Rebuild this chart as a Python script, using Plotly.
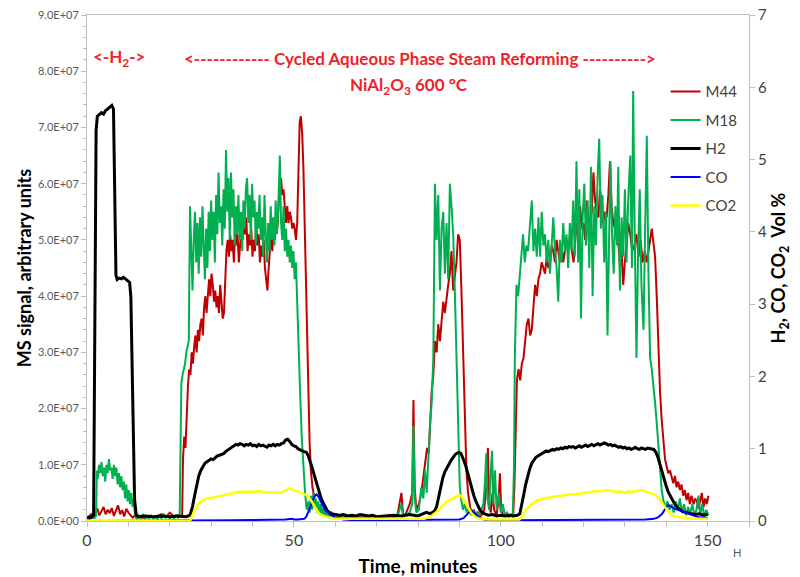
import plotly.graph_objects as go

# ---------------------------------------------------------------------------
# Mass-spec signals (time in minutes, signal in units of 1e7 a.u.)
# ---------------------------------------------------------------------------
M44 = [
    (0, 0.05), (0.5, 0.08), (1.0, 0.12), (1.5, 0.06), (2.0, 0.15), (2.5, 0.22), (3.0, 0.10),
    (3.5, 0.18), (4.0, 0.25), (4.5, 0.12), (5.0, 0.20), (5.5, 0.14), (6.0, 0.23), (6.5, 0.09),
    (7.0, 0.17), (7.5, 0.28), (8.0, 0.12), (8.5, 0.19), (9.0, 0.08), (9.5, 0.22), (10.0, 0.15),
    (10.5, 0.10), (11.0, 0.06), (11.5, 0.09), (12.0, 0.05), (13, 0.07), (14, 0.05), (15, 0.08),
    (16, 0.06), (17, 0.09), (18, 0.12), (19, 0.07), (20, 0.15), (21, 0.08), (22, 0.10), (22.8, 0.08),
    (23.0, 0.1), (23.2, 1.1), (23.5, 1.5), (23.8, 1.3), (24.1, 2.0), (24.4, 2.4), (24.7, 2.7),
    (25.0, 2.6), (25.3, 3.0), (25.6, 2.8), (25.9, 3.1), (26.2, 3.3), (26.5, 3.0), (26.8, 3.4),
    (27.1, 3.2), (27.4, 3.5), (27.7, 3.6), (28.0, 3.3), (28.3, 3.8), (28.6, 4.0), (28.9, 3.7),
    (29.2, 4.1), (29.5, 4.3), (29.8, 4.0), (30.1, 4.4), (30.4, 4.2), (30.7, 3.9), (31.0, 4.1),
    (31.3, 3.8), (31.6, 4.0), (31.9, 3.7), (32.2, 4.2), (32.5, 3.9), (32.8, 3.6), (33.1, 3.7),
    (33.4, 4.4), (33.7, 4.8), (34.0, 5.0), (34.3, 4.7), (34.6, 5.1), (34.9, 4.8), (35.2, 5.0),
    (35.5, 4.6), (35.8, 5.2), (36.1, 4.9), (36.4, 5.1), (36.7, 4.6), (37.0, 4.9), (37.3, 5.2),
    (37.6, 5.0), (37.9, 5.3), (38.2, 5.1), (38.5, 5.4), (38.8, 4.8), (39.1, 5.1), (39.4, 4.9),
    (39.7, 5.2), (40.0, 4.7), (40.3, 5.0), (40.6, 4.8), (40.9, 5.3), (41.2, 4.9), (41.5, 5.1),
    (41.8, 4.6), (42.1, 4.9), (42.4, 4.7), (42.7, 5.0), (43.0, 4.5), (43.3, 4.3), (43.6, 4.1),
    (43.9, 4.5), (44.2, 4.9), (44.5, 5.1), (44.8, 4.8), (45.1, 5.3), (45.4, 5.0), (45.7, 5.4),
    (46.0, 5.2), (46.3, 5.6), (46.6, 6.0), (46.9, 6.1), (47.2, 5.8), (47.5, 5.9), (47.8, 5.5),
    (48.1, 5.3), (48.4, 5.6), (48.7, 5.3), (49.0, 5.5), (49.3, 5.4), (49.6, 5.2), (49.9, 5.3),
    (50.2, 5.2), (50.5, 5.0), (50.8, 5.3), (51.1, 6.4), (51.4, 7.1), (51.7, 7.2), (52.0, 6.9),
    (52.3, 6.3), (52.6, 5.2), (52.9, 4.1), (53.2, 3.0), (53.5, 2.0), (53.8, 1.4), (54.1, 0.9),
    (54.5, 0.6), (55.0, 0.4), (55.5, 0.3), (56.0, 0.25), (56.5, 0.15), (57.0, 0.2), (57.5, 0.12),
    (58.0, 0.18), (58.5, 0.1), (59.0, 0.15), (59.5, 0.08), (60.0, 0.12), (61, 0.07), (62, 0.1),
    (63, 0.06), (64, 0.08), (65, 0.05), (66, 0.07), (67, 0.05), (68, 0.08), (69, 0.06), (70, 0.05),
    (71, 0.07), (72, 0.06), (73, 0.09), (74, 0.06), (75, 0.1), (76, 0.5), (76.4, 0.1), (77, 0.12),
    (78, 0.3), (78.6, 0.5), (78.9, 2.15), (79.2, 0.6), (79.6, 0.2), (80.2, 0.3), (80.8, 0.5),
    (81.3, 0.8), (81.8, 1.1), (82.2, 1.3), (82.6, 1.2), (82.9, 1.7), (83.3, 2.3), (83.7, 2.6),
    (84.1, 3.2), (84.5, 3.0), (84.9, 3.5), (85.3, 3.2), (85.7, 3.6), (86.1, 3.9), (86.5, 3.7),
    (86.9, 4.0), (87.3, 4.2), (87.7, 4.4), (88.1, 4.8), (88.5, 4.1), (88.9, 4.4), (89.3, 4.6),
    (89.7, 5.1), (90.1, 5.0), (90.5, 4.1), (90.9, 2.9), (91.3, 1.7), (91.7, 0.9), (92.1, 0.5),
    (92.6, 0.25), (93.0, 0.15), (93.5, 0.2), (94.0, 0.1), (94.5, 0.15), (95.0, 0.08), (95.5, 0.12),
    (96.0, 0.2), (96.5, 0.6), (96.9, 1.3), (97.2, 0.3), (97.6, 0.15), (98.0, 0.5), (98.4, 0.2),
    (99.0, 0.1), (99.5, 0.4), (99.8, 0.85), (100.1, 0.2), (100.6, 0.1), (101.2, 0.12), (101.8, 0.08),
    (102.4, 0.1), (103.0, 0.1), (103.3, 0.6), (103.6, 1.5), (103.9, 2.5), (104.3, 2.7), (104.7, 2.5),
    (105.1, 2.8), (105.5, 2.9), (105.9, 3.2), (106.3, 3.5), (106.7, 3.6), (107.1, 3.3), (107.5, 3.4),
    (107.9, 3.9), (108.3, 4.2), (108.7, 4.0), (109.1, 4.3), (109.5, 4.4), (109.9, 4.6), (110.3, 4.5),
    (110.7, 4.4), (111.1, 4.7), (111.5, 4.5), (111.9, 4.6), (112.3, 4.9), (112.7, 4.8), (113.1, 4.6),
    (113.5, 5.0), (113.9, 4.8), (114.3, 4.6), (114.7, 4.9), (115.1, 4.6), (115.5, 4.8), (115.9, 5.0),
    (116.3, 4.8), (116.8, 5.1), (117.2, 4.8), (117.6, 4.6), (118.0, 5.0), (118.4, 5.3), (118.8, 5.0),
    (119.2, 5.6), (119.6, 5.2), (120.0, 5.3), (120.4, 5.0), (120.8, 5.7), (121.2, 5.4), (121.6, 5.3),
    (122.0, 5.5), (122.4, 6.2), (122.8, 5.7), (123.2, 5.5), (123.6, 5.4), (124.0, 5.9), (124.4, 5.6),
    (124.8, 5.3), (125.2, 5.5), (125.6, 5.4), (126.0, 5.8), (126.4, 6.4), (126.8, 5.6), (127.2, 5.3),
    (127.6, 5.2), (128.0, 5.5), (128.4, 5.0), (128.8, 4.5), (129.2, 4.8), (129.6, 4.2), (130.0, 4.6),
    (130.4, 5.0), (130.8, 5.3), (131.3, 5.1), (131.8, 4.8), (132.3, 4.9), (132.8, 5.1), (133.3, 4.7),
    (133.8, 5.0), (134.3, 4.6), (134.8, 4.8), (135.3, 4.6), (135.8, 4.9), (136.1, 5.0), (136.5, 5.2),
    (136.9, 4.9), (137.3, 4.7), (137.7, 4.0), (138.1, 3.0), (138.5, 2.3), (138.9, 1.8), (139.3, 1.4),
    (139.7, 1.1), (140.1, 0.97), (140.5, 0.85), (140.9, 0.9), (141.3, 0.75), (141.7, 0.67),
    (142.1, 0.8), (142.5, 0.6), (142.9, 0.7), (143.3, 0.55), (143.7, 0.65), (144.1, 0.45),
    (144.5, 0.55), (144.9, 0.37), (145.3, 0.5), (145.7, 0.3), (146.1, 0.45), (146.6, 0.3),
    (147.0, 0.4), (147.4, 0.35), (147.8, 0.22), (148.2, 0.35), (148.6, 0.5), (149.0, 0.25),
    (149.4, 0.4), (149.8, 0.3), (150.2, 0.45),
]

M18 = [
    (0, 0.05), (0.6, 0.03), (1.2, 0.06), (1.8, 0.05), (2.2, 0.1), (2.4, 0.9), (2.6, 0.75),
    (2.9, 1.0), (3.2, 0.85), (3.5, 1.05), (3.8, 0.8), (4.1, 0.95), (4.4, 0.7), (4.7, 1.0),
    (5.0, 0.85), (5.3, 1.1), (5.6, 0.9), (5.9, 0.95), (6.2, 0.75), (6.5, 1.0), (6.8, 0.8),
    (7.1, 0.95), (7.4, 0.65), (7.7, 0.85), (8.0, 0.6), (8.3, 0.8), (8.6, 0.55), (8.9, 0.7),
    (9.2, 0.4), (9.5, 0.65), (9.8, 0.35), (10.1, 0.55), (10.4, 0.3), (10.7, 0.5), (11.0, 0.25),
    (11.3, 0.4), (11.6, 0.1), (12.0, 0.05), (12.5, 0.1), (13, 0.04), (13.5, 0.12), (14, 0.05),
    (14.5, 0.08), (15, 0.05), (15.5, 0.1), (16, 0.05), (16.5, 0.07), (17, 0.04), (17.5, 0.09),
    (18, 0.05), (18.5, 0.13), (19, 0.06), (19.5, 0.1), (20, 0.05), (20.5, 0.08), (21, 0.05),
    (21.5, 0.1), (22, 0.06), (22.4, 0.08), (22.6, 1.5), (22.8, 2.45), (23.1, 2.6), (23.4, 2.7),
    (23.7, 2.8), (24.0, 3.0), (24.3, 3.1), (24.6, 3.2), (24.9, 5.6), (25.2, 4.6), (25.5, 4.1),
    (25.8, 5.0), (26.1, 5.5), (26.4, 4.6), (26.7, 5.3), (27.0, 4.4), (27.3, 5.4), (27.6, 4.7),
    (27.9, 5.6), (28.2, 4.9), (28.5, 4.3), (28.8, 5.2), (29.1, 4.5), (29.4, 5.5), (29.7, 4.8),
    (30.0, 5.7), (30.3, 5.0), (30.6, 5.5), (30.9, 4.6), (31.2, 5.8), (31.5, 5.1), (31.8, 6.2),
    (32.1, 5.3), (32.4, 5.6), (32.7, 4.9), (33.0, 5.9), (33.3, 5.2), (33.6, 6.6), (33.9, 5.5),
    (34.2, 6.1), (34.5, 5.0), (34.8, 6.2), (35.1, 5.4), (35.4, 5.9), (35.7, 4.9), (36.0, 5.6),
    (36.3, 5.1), (36.6, 5.8), (36.9, 5.0), (37.2, 5.5), (37.5, 4.8), (37.8, 5.7), (38.1, 5.2),
    (38.4, 5.9), (38.7, 6.1), (39.0, 5.3), (39.3, 5.8), (39.6, 5.0), (39.9, 6.0), (40.2, 5.4),
    (40.5, 5.7), (40.8, 4.9), (41.1, 5.5), (41.4, 5.2), (41.7, 5.8), (42.0, 5.0), (42.3, 5.4),
    (42.6, 4.7), (42.9, 5.8), (43.2, 5.1), (43.5, 4.6), (43.8, 5.3), (44.1, 4.8), (44.4, 5.6),
    (44.7, 5.0), (45.0, 5.4), (45.3, 4.9), (45.6, 5.7), (45.9, 5.1), (46.2, 5.5), (46.6, 6.5),
    (46.9, 5.3), (47.2, 5.0), (47.5, 5.6), (47.8, 4.8), (48.1, 5.2), (48.4, 4.7), (48.7, 5.0),
    (49.0, 4.6), (49.3, 4.9), (49.6, 4.5), (49.9, 4.8), (50.2, 4.3), (50.5, 4.6), (50.8, 3.8),
    (51.1, 3.0), (51.5, 2.3), (51.9, 1.5), (52.3, 0.95), (52.7, 0.5), (53.1, 0.2), (53.5, 0.35),
    (53.8, 0.15), (54.1, 0.45), (54.4, 0.2), (54.7, 0.5), (55.0, 0.25), (55.3, 0.4), (55.6, 0.15),
    (55.9, 0.35), (56.2, 0.12), (56.5, 0.3), (56.8, 0.1), (57.2, 0.25), (57.6, 0.08), (58.0, 0.15),
    (58.5, 0.07), (59, 0.12), (60, 0.05), (61, 0.08), (62, 0.05), (63, 0.07), (64, 0.04),
    (65, 0.06), (66, 0.05), (67, 0.08), (68, 0.05), (69, 0.06), (70, 0.04), (71, 0.07), (72, 0.05),
    (73, 0.06), (74, 0.05), (75, 0.08), (76, 0.3), (76.4, 0.08), (77, 0.1), (78, 0.15),
    (78.6, 0.3), (78.9, 1.7), (79.2, 0.4), (79.6, 0.15), (80.2, 0.2), (80.8, 0.6), (81.3, 0.4),
    (81.7, 0.9), (82.1, 0.5), (82.5, 1.2), (82.9, 1.7), (83.3, 2.1), (83.7, 2.9), (84.1, 6.0),
    (84.5, 5.0), (84.9, 5.8), (85.3, 4.1), (85.7, 5.2), (86.1, 5.5), (86.5, 4.4), (86.9, 5.3),
    (87.3, 4.3), (87.7, 6.0), (88.1, 5.6), (88.5, 5.1), (88.9, 4.1), (89.3, 2.9), (89.7, 1.7),
    (90.1, 0.6), (90.5, 0.35), (90.9, 0.2), (91.3, 0.3), (91.8, 0.15), (92.3, 0.25), (92.8, 0.1),
    (93.3, 0.2), (93.8, 0.08), (94.3, 0.15), (94.8, 0.1), (95.3, 0.2), (95.8, 0.3), (96.2, 0.7),
    (96.5, 1.2), (96.8, 0.4), (97.2, 0.2), (97.6, 0.9), (97.9, 1.25), (98.2, 0.3), (98.6, 0.9),
    (99.0, 0.2), (99.5, 0.5), (100.0, 0.15), (100.5, 0.3), (101.0, 0.1), (101.5, 0.15),
    (102.0, 0.08), (102.5, 0.12), (102.9, 0.1), (103.2, 0.95), (103.4, 2.9), (103.8, 4.2),
    (104.2, 4.0), (104.6, 4.4), (105.0, 4.7), (105.4, 5.1), (105.8, 4.6), (106.2, 4.9),
    (106.6, 4.8), (107.0, 5.2), (107.5, 5.7), (107.9, 4.8), (108.3, 5.2), (108.7, 4.7),
    (109.1, 5.4), (109.5, 4.7), (109.9, 5.5), (110.3, 4.9), (110.7, 5.1), (111.1, 4.6),
    (111.5, 5.0), (111.9, 4.4), (112.3, 4.9), (112.7, 5.4), (113.1, 4.8), (113.5, 4.5),
    (113.9, 3.9), (114.3, 5.0), (114.7, 4.6), (115.1, 5.3), (115.5, 4.8), (115.9, 5.1),
    (116.3, 4.5), (116.7, 5.3), (117.1, 4.8), (117.5, 5.7), (117.9, 4.7), (118.3, 6.4),
    (118.7, 4.6), (119.0, 5.9), (119.4, 3.6), (119.8, 5.4), (120.2, 6.0), (120.6, 4.9),
    (121.0, 5.7), (121.4, 4.5), (121.8, 6.3), (122.2, 4.0), (122.6, 5.6), (123.0, 4.9),
    (123.4, 6.1), (123.8, 6.8), (124.2, 5.2), (124.6, 5.8), (125.0, 4.6), (125.4, 5.5),
    (125.8, 3.3), (126.2, 5.0), (126.5, 6.4), (126.9, 5.1), (127.3, 4.4), (127.7, 5.6),
    (128.1, 4.9), (128.4, 6.3), (128.8, 4.1), (129.2, 5.4), (129.6, 4.7), (130.0, 5.9),
    (130.4, 4.6), (130.8, 5.7), (131.3, 6.5), (131.7, 4.5), (132.0, 7.65), (132.4, 5.0),
    (132.8, 2.9), (133.2, 4.8), (133.6, 5.9), (134.0, 4.2), (134.5, 3.4), (134.9, 5.2),
    (135.3, 6.85), (135.7, 4.4), (136.1, 2.9), (136.5, 2.7), (136.9, 2.45), (137.3, 2.1),
    (137.7, 1.74), (138.1, 1.3), (138.5, 0.85), (138.9, 0.55), (139.3, 0.37), (139.8, 0.25),
    (140.3, 0.35), (140.8, 0.2), (141.3, 0.3), (141.8, 0.15), (142.3, 0.35), (142.8, 0.2),
    (143.3, 0.4), (143.8, 0.15), (144.3, 0.3), (144.8, 0.1), (145.3, 0.25), (145.8, 0.12),
    (146.3, 0.3), (146.8, 0.1), (147.3, 0.2), (147.8, 0.45), (148.2, 0.1), (148.7, 0.3),
    (149.2, 0.08), (149.7, 0.2), (150.2, 0.1),
]

# ---------------------------------------------------------------------------
# Gas composition (time in minutes, vol %)
# ---------------------------------------------------------------------------
H2 = [
    (0, 0.05), (1.0, 0.05), (1.6, 0.08), (1.9, 2.5), (2.2, 5.4), (2.5, 5.6), (3.0, 5.62),
    (3.5, 5.65), (4.0, 5.63), (4.5, 5.68), (5.0, 5.7), (5.5, 5.72), (6.0, 5.75), (6.4, 5.7),
    (6.7, 4.5), (7.0, 3.4), (7.3, 3.34), (7.8, 3.36), (8.3, 3.35), (8.8, 3.37), (9.3, 3.35),
    (9.8, 3.33), (10.3, 3.3), (10.6, 3.1), (10.9, 2.0), (11.2, 0.9), (11.5, 0.3), (11.9, 0.08),
    (12.5, 0.06), (14, 0.07), (16, 0.06), (18, 0.07), (20, 0.06), (22, 0.07), (24, 0.06),
    (24.9, 0.08), (25.5, 0.2), (26.0, 0.35), (26.5, 0.5), (27.0, 0.62), (27.5, 0.7), (28.0, 0.75),
    (28.5, 0.8), (29, 0.82), (29.5, 0.84), (30, 0.86), (30.5, 0.85), (31, 0.88), (31.5, 0.9),
    (32, 0.91), (32.5, 0.92), (33, 0.93), (33.5, 0.96), (34, 0.98), (34.5, 1.0), (35, 1.02),
    (35.5, 1.03), (36, 1.06), (36.5, 1.05), (37, 1.07), (37.5, 1.06), (38, 1.04), (38.5, 1.06),
    (39, 1.05), (39.5, 1.07), (40, 1.04), (40.5, 1.05), (41, 1.03), (41.5, 1.06), (42, 1.04),
    (42.5, 1.05), (43, 1.03), (43.5, 1.02), (44, 1.05), (44.5, 1.04), (45, 1.06), (45.5, 1.04),
    (46, 1.06), (46.5, 1.05), (47, 1.07), (47.5, 1.08), (48, 1.12), (48.5, 1.13), (49, 1.1),
    (49.5, 1.06), (50, 1.04), (50.5, 1.03), (51, 1.0), (51.5, 0.98), (52, 0.97), (52.5, 0.96),
    (53, 0.95), (53.5, 0.9), (54, 0.82), (54.5, 0.72), (55, 0.62), (55.5, 0.52), (56, 0.42),
    (56.5, 0.33), (57, 0.26), (57.5, 0.2), (58, 0.15), (58.5, 0.12), (59, 0.1), (60, 0.09),
    (61, 0.08), (62, 0.09), (63, 0.07), (64, 0.08), (65, 0.07), (66, 0.09), (67, 0.08), (68, 0.07),
    (69, 0.08), (70, 0.06), (72, 0.07), (74, 0.08), (76, 0.07), (78, 0.09), (80, 0.07), (81, 0.09),
    (82, 0.12), (83, 0.1), (84, 0.14), (84.5, 0.2), (85, 0.35), (85.5, 0.48), (86, 0.6),
    (86.5, 0.68), (87, 0.74), (87.5, 0.8), (88, 0.84), (88.5, 0.88), (89, 0.92), (89.5, 0.94),
    (90, 0.95), (90.4, 0.93), (90.8, 0.88), (91.2, 0.82), (91.6, 0.75), (92.0, 0.66), (92.5, 0.55),
    (93.0, 0.45), (93.5, 0.35), (94, 0.27), (94.5, 0.2), (95, 0.15), (95.5, 0.12), (96, 0.1),
    (97, 0.08), (98, 0.09), (99, 0.07), (100, 0.08), (101, 0.07), (102, 0.08), (103, 0.07),
    (104, 0.08), (104.6, 0.1), (105, 0.2), (105.5, 0.35), (106, 0.5), (106.5, 0.62), (107, 0.72),
    (107.5, 0.8), (108, 0.85), (108.5, 0.88), (109, 0.9), (109.5, 0.92), (110, 0.94), (110.5, 0.95),
    (111, 0.97), (111.5, 0.96), (112, 0.98), (112.5, 0.99), (113, 0.98), (113.5, 1.0), (114, 0.99),
    (114.5, 1.01), (115, 1.0), (115.5, 1.02), (116, 1.01), (116.5, 1.03), (117, 1.02),
    (117.5, 1.03), (118, 1.01), (118.5, 1.03), (119, 1.04), (119.5, 1.02), (120, 1.03),
    (120.5, 1.05), (121, 1.03), (121.5, 1.04), (122, 1.06), (122.5, 1.04), (123, 1.05),
    (123.5, 1.07), (124, 1.05), (124.5, 1.06), (125, 1.08), (125.5, 1.07), (126, 1.05),
    (126.5, 1.06), (127, 1.04), (127.5, 1.05), (128, 1.03), (128.5, 1.02), (129, 1.03),
    (129.5, 1.01), (130, 1.02), (130.5, 1.0), (131, 1.01), (131.5, 0.99), (132, 1.0), (132.5, 1.02),
    (133, 1.0), (133.5, 0.99), (134, 1.01), (134.5, 1.0), (135, 0.99), (135.5, 1.01), (136, 1.0),
    (136.5, 1.0), (137, 0.99), (137.5, 0.95), (138, 0.88), (138.5, 0.78), (139, 0.67),
    (139.5, 0.57), (140, 0.48), (140.5, 0.4), (141, 0.34), (141.5, 0.28), (142, 0.24),
    (142.5, 0.2), (143, 0.17), (143.5, 0.15), (144, 0.13), (145, 0.11), (146, 0.1), (147, 0.09),
    (148, 0.1), (149, 0.08), (150, 0.09),
]

CO = [
    (0, 0.0), (24.5, 0.0), (25, 0.01), (30, 0.01), (35, 0.01), (40, 0.015), (45, 0.015),
    (48, 0.02), (49.5, 0.03), (50, 0.02), (51, 0.02), (52, 0.02), (52.5, 0.03), (53, 0.06),
    (53.5, 0.12), (54, 0.2), (54.5, 0.28), (55, 0.34), (55.5, 0.37), (56, 0.33), (56.5, 0.27),
    (57, 0.21), (57.5, 0.16), (58, 0.13), (58.5, 0.1), (59, 0.08), (60, 0.05), (61, 0.03),
    (62, 0.02), (65, 0.01), (70, 0.01), (80, 0.01), (88, 0.01), (90, 0.02), (91, 0.04),
    (91.5, 0.07), (92, 0.1), (92.5, 0.13), (93, 0.14), (93.5, 0.12), (94, 0.09), (94.5, 0.06),
    (95, 0.04), (96, 0.02), (97, 0.01), (100, 0.01), (110, 0.01), (120, 0.015), (130, 0.02),
    (135, 0.02), (137, 0.03), (138, 0.05), (139, 0.1), (139.5, 0.15), (140, 0.19), (140.5, 0.22),
    (141, 0.21), (141.5, 0.19), (142, 0.17), (142.5, 0.16), (143, 0.14), (144, 0.12), (145, 0.1),
    (146, 0.08), (147, 0.06), (148, 0.05), (149, 0.05), (150, 0.04),
]

CO2 = [
    (0, 0.0), (24.9, 0.0), (25.5, 0.08), (26.0, 0.15), (26.5, 0.2), (27.0, 0.24), (27.5, 0.27),
    (28, 0.29), (29, 0.31), (30, 0.32), (31, 0.33), (32, 0.35), (33, 0.36), (34, 0.37), (35, 0.38),
    (36, 0.4), (37, 0.4), (38, 0.41), (39, 0.4), (40, 0.41), (41, 0.4), (42, 0.41), (43, 0.39),
    (44, 0.4), (45, 0.39), (46, 0.4), (47, 0.39), (48, 0.42), (49, 0.45), (49.5, 0.44),
    (50, 0.42), (51, 0.41), (52, 0.38), (53, 0.36), (53.5, 0.33), (54, 0.3), (54.5, 0.25),
    (55, 0.2), (55.5, 0.15), (56, 0.11), (57, 0.07), (58, 0.05), (59, 0.04), (60, 0.03),
    (65, 0.03), (70, 0.02), (75, 0.02), (80, 0.02), (81.5, 0.03), (83, 0.06), (84, 0.1),
    (85, 0.15), (86, 0.22), (87, 0.27), (88, 0.3), (89, 0.33), (90, 0.36), (90.5, 0.34),
    (91, 0.3), (91.5, 0.25), (92, 0.2), (92.5, 0.15), (93, 0.1), (94, 0.05), (95, 0.03),
    (97, 0.02), (100, 0.02), (104.5, 0.02), (105, 0.05), (105.5, 0.1), (106, 0.15), (107, 0.21),
    (108, 0.26), (109, 0.29), (110, 0.31), (111, 0.32), (112, 0.33), (113, 0.34), (114, 0.35),
    (115, 0.35), (116, 0.36), (117, 0.37), (118, 0.37), (119, 0.38), (120, 0.38), (121, 0.39),
    (122, 0.4), (123, 0.41), (124, 0.41), (125, 0.42), (126, 0.43), (127, 0.41), (128, 0.4),
    (129, 0.41), (130, 0.39), (131, 0.41), (132, 0.4), (133, 0.42), (134, 0.43), (135, 0.41),
    (136, 0.39), (137, 0.37), (138, 0.33), (138.5, 0.29), (139, 0.25), (139.5, 0.2),
    (140, 0.16), (140.5, 0.12), (141, 0.09), (142, 0.06), (143, 0.05), (145, 0.04), (147, 0.03),
    (150, 0.03),
]

MS_UNIT = 1e7

LEFT_TICK_VALUES = [0, 1e7, 2e7, 3e7, 4e7, 5e7, 6e7, 7e7, 8e7, 9e7]
LEFT_TICK_TEXT = ["0.0E+00", "1.0E+07", "2.0E+07", "3.0E+07", "4.0E+07",
                  "5.0E+07", "6.0E+07", "7.0E+07", "8.0E+07", "9.0E+07"]
X_TICK_VALUES = [0, 10, 20, 30, 40, 50, 60, 70, 80, 90, 100, 110, 120, 130, 140, 150, 160]
X_TICK_TEXT = ["0", "", "", "", "", "50", "", "", "", "", "100", "", "", "", "", "150", ""]

FONT = "Lato, 'Open Sans', sans-serif"
AXIS_GREY = "#BFBFBF"
LABEL_GREY = "#595959"
RED_TEXT = "#EE2229"


def split(pairs, scale=1.0):
    return [p[0] for p in pairs], [p[1] * scale for p in pairs]


fig = go.Figure()

series = [
    ("M44", M44, "#C00000", 2.0, "y", MS_UNIT),
    ("M18", M18, "#00B050", 2.0, "y", MS_UNIT),
    ("H2", H2, "#000000", 3.0, "y2", 1.0),
    ("CO", CO, "#0000FF", 2.0, "y2", 1.0),
    ("CO2", CO2, "#FFFF00", 2.5, "y2", 1.0),
]
for name, pairs, color, width, axis, scale in series:
    t, v = split(pairs, scale)
    fig.add_trace(go.Scatter(
        x=t, y=v, name=name, mode="lines", yaxis=axis, legendgroup=name,
        line=dict(color=color, width=width),
    ))

fig.update_layout(
    width=800, height=577,
    margin=dict(l=87, r=51, t=15, b=56, pad=0, autoexpand=False),
    paper_bgcolor="white", plot_bgcolor="white",
    font=dict(family=FONT, color=LABEL_GREY),
    showlegend=True,
    legend=dict(
        x=0.874, y=0.881, xanchor="left", yanchor="top",
        font=dict(size=15, color="#404040", family=FONT),
        bgcolor="rgba(0,0,0,0)", tracegroupgap=6, itemwidth=30,
    ),
    xaxis=dict(
        range=[0, 160], tickmode="array", tickvals=X_TICK_VALUES, ticktext=X_TICK_TEXT,
        ticks="outside", ticklen=5, tickcolor=AXIS_GREY, showline=True, linecolor=AXIS_GREY,
        linewidth=1, mirror=True, showgrid=False, zeroline=False, automargin=False,
        tickfont=dict(size=16, color="#404040"),
        title=dict(text="<b>Time, minutes</b>", font=dict(size=19, color="#000000"), standoff=18),
    ),
    yaxis=dict(
        range=[0, 9e7], tickmode="array", tickvals=LEFT_TICK_VALUES, ticktext=LEFT_TICK_TEXT,
        ticks="outside", ticklen=5, tickcolor=AXIS_GREY, showline=True, linecolor=AXIS_GREY,
        linewidth=1, showgrid=False, zeroline=False, automargin=False,
        tickfont=dict(size=11, color=LABEL_GREY),
        minor=dict(tickvals=[i * 2e6 for i in range(46)], ticks="outside", ticklen=3,
                   tickcolor=AXIS_GREY),
        title=dict(text="<b>MS signal, arbitrary units</b>", font=dict(size=18, color="#000000"),
                   standoff=1),
    ),
    yaxis2=dict(
        range=[0, 7], overlaying="y", side="right", tickmode="linear", tick0=0, dtick=1,
        ticks="outside", ticklen=5, tickcolor=AXIS_GREY, showline=True, linecolor=AXIS_GREY,
        linewidth=1, showgrid=False, zeroline=False, automargin=False,
        tickfont=dict(size=15, color="#404040"),
        title=dict(text="<b>H<sub>2</sub>, CO, CO<sub>2</sub>  Vol %</b>",
                   font=dict(size=18, color="#000000"), standoff=6),
    ),
)

annotations = [
    dict(text="<b>&lt;-H<sub>2</sub>-&gt;</b>", x=0.048, y=0.915),
    dict(text="<b>&lt;------------ Cycled Aqueous Phase Steam Reforming ----------&gt;</b>",
         x=0.503, y=0.915),
    dict(text="<b>NiAl<sub>2</sub>O<sub>3</sub> 600 \u00b0C</b>", x=0.486, y=0.86),
]
for a in annotations:
    fig.add_annotation(xref="paper", yref="paper", showarrow=False, xanchor="center",
                       yanchor="middle", font=dict(size=17, color=RED_TEXT, family=FONT), **a)

fig.add_annotation(xref="paper", yref="paper", x=0.982, y=-0.063, text="H", showarrow=False,
                   xanchor="center", yanchor="middle",
                   font=dict(size=11, color=LABEL_GREY, family=FONT))

fig.write_html("out.html")
